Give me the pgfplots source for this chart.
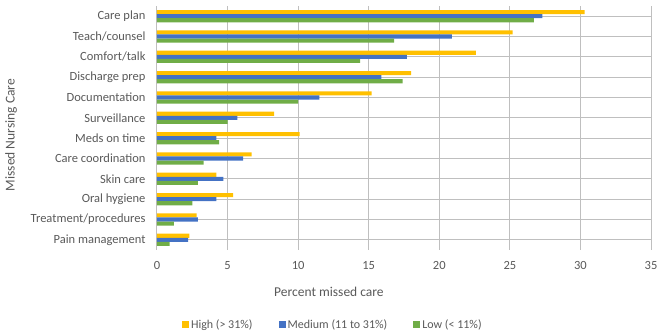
\documentclass[border=0pt]{standalone}
\usepackage{pgfplots}
\pgfplotsset{compat=1.18}
\usepackage{fontspec}
\setmainfont{Carlito}
\definecolor{cHigh}{HTML}{FFC000}
\definecolor{cMed}{HTML}{4472C4}
\definecolor{cLow}{HTML}{70AD47}
\definecolor{grid}{HTML}{D9D9D9}
\definecolor{txt}{HTML}{595959}
\begin{document}
\begin{tikzpicture}
\begin{axis}[
  name=ax,
  scale only axis,
  width=494pt, height=244pt,
  xbar=0pt,
  bar width=0.2,
  y dir=reverse,
  xmin=0, xmax=35,
  ymin=-0.5, ymax=11.5,
  xtick={0,5,...,35},
  ytick={0,...,11},
  yticklabels={Care plan,Teach/counsel,Comfort/talk,Discharge prep,Documentation,Surveillance,Meds on time,Care coordination,Skin care,Oral hygiene,Treatment/procedures,Pain management},
  /pgf/number format/assume math mode=true,
  axis line style={draw=none},
  xmajorgrids,
  grid style={grid, line width=1pt},
  major tick length=0pt,
  tick label style={font=\fontsize{12.5}{15}\selectfont, text=txt},
  xticklabel style={yshift=-8pt},
  yticklabel style={xshift=-8pt},
  clip=false,
  legend columns=3,
  legend style={draw=none, fill=none, at={(0.356,-0.307)}, anchor=center,
    font=\fontsize{12}{14}\selectfont, text=txt,
    /tikz/every even column/.append style={column sep=24pt}},
  legend image code/.code={\path[#1,draw=none] (0pt,-3.5pt) rectangle (7pt,3.5pt);},
]
\addplot[fill=cHigh, draw=none] coordinates {
(30.3,0) (25.2,1) (22.6,2) (18.0,3) (15.2,4) (8.3,5) (10.1,6) (6.7,7) (4.2,8) (5.4,9) (2.8,10) (2.3,11)};
\addplot[fill=cMed, draw=none] coordinates {
(27.3,0) (20.9,1) (17.7,2) (15.9,3) (11.5,4) (5.7,5) (4.2,6) (6.1,7) (4.7,8) (4.2,9) (2.9,10) (2.2,11)};
\addplot[fill=cLow, draw=none] coordinates {
(26.7,0) (16.8,1) (14.4,2) (17.4,3) (10.0,4) (5.0,5) (4.4,6) (3.3,7) (2.9,8) (2.5,9) (1.2,10) (0.9,11)};
\legend{High (> 31\%),Medium (11 to 31\%),Low (< 11\%)}
\node[font=\fontsize{13.5}{15}\selectfont, text=txt, anchor=center] at (axis description cs:0.348,-0.172) {Percent missed care};
\node[font=\fontsize{13.5}{15}\selectfont, text=txt, anchor=center, rotate=90] at (axis description cs:-0.2955,0.471) {Missed Nursing Care};
\end{axis}
\pgfresetboundingbox
\path (ax.south west) ++(-157pt,-82pt) rectangle ++(658pt,332pt);
\end{tikzpicture}
\end{document}
